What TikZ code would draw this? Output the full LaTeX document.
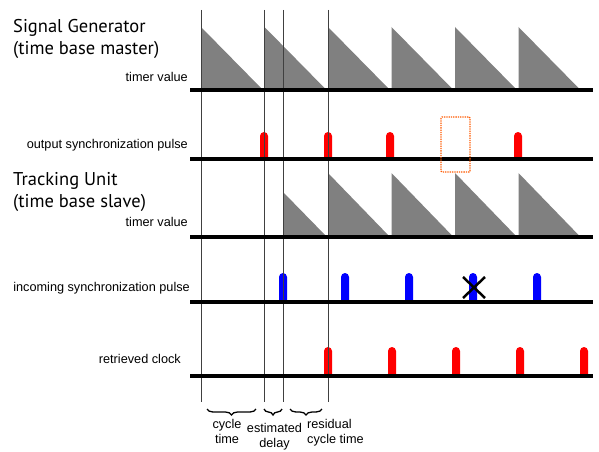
\documentclass[tikz,border=0pt]{standalone}
\usepackage{fontspec}
\setmainfont{Liberation Sans}
\newfontfamily\titlefont{PT Sans}
\usetikzlibrary{decorations.pathreplacing}

\tikzset{
    axis/.style={line width=4.5pt},
    marker/.style={black!75, line width=0.8pt},
    ramp/.style={fill=black!50},
    lbl/.style={font=\fontsize{12.7}{14.5}\selectfont, inner sep=0pt},
    ttl/.style={font=\titlefont\fontsize{18.5}{22}\selectfont, inner sep=0pt, align=left, anchor=base west},
    bracket/.style={decorate, decoration={brace, mirror, amplitude=6pt}, line width=1.3pt}
}

\begin{document}
\begin{tikzpicture}[x=1pt, y=1pt]
        \useasboundingbox (0,0) rectangle (599,451);

        % Titles
        \node[ttl] (master) at (13,396) {Signal Generator\\(time base master)};
        \node[ttl] (slave) at (13,244) {Tracking Unit\\(time base slave)};

        % Row labels
        \node[lbl, anchor=base east] (mtimer) at (188,370) {timer value};
        \node[lbl, anchor=base east] (outpulse) at (188,303) {output synchronization pulse};
        \node[lbl, anchor=base east] (stimer) at (188,225) {timer value};
        \node[lbl, anchor=base east] (inpulse) at (190,160) {incoming synchronization pulse};
        \node[lbl, anchor=base east] (clock) at (181,88) {retrieved clock};

        % Master timer ramps
        \foreach \x in {201,264.5,328,391.5,455,518.5} {
            \fill[ramp] (\x,361) -- (\x,424) -- (\x+62,361) -- cycle;
        }

        % Slave timer ramps (first one cut)
        \fill[ramp] (283,214) -- (283,259) -- (327,214) -- cycle;
        \foreach \x in {328,391.5,455,518.5} {
            \fill[ramp] (\x,214) -- (\x,278) -- (\x+62,214) -- cycle;
        }

        % Pulses
        \foreach \x in {264,328,390,518} {
            \fill[red] (\x-4,292) -- (\x-4,315) arc (180:0:4) -- (\x+4,292) -- cycle;
        }
        \foreach \x in {283,345,409,473,537} {
            \fill[blue] (\x-4,149) -- (\x-4,174) arc (180:0:4) -- (\x+4,149) -- cycle;
        }
        \foreach \x in {328,392,456,520,584} {
            \fill[red] (\x-4,75) -- (\x-4,100) arc (180:0:4) -- (\x+4,75) -- cycle;
        }

        % Time markers
        \foreach \x/\name in {201/ta,264/tb,283/tc,328/td} {
            \draw[marker] (\x,441) coordinate (\name-top) -- (\x,49) coordinate (\name-bot);
        }

        % Axes
        \foreach \y in {361,292,214,149,75} {
            \draw[axis] (190,\y) -- (593,\y);
        }

        % Missing pulse and lost pulse
        \draw[orange!70!red, densely dotted, line width=1.3pt, rounded corners=1pt]
            (441,334) rectangle (470,279);
        \draw[line width=2.5pt] (463,174) -- (485,153) (463,153) -- (485,174);

        % Intervals
        \coordinate (c1) at (207,42);
        \coordinate (c2) at (256,42);
        \coordinate (d1) at (264,42);
        \coordinate (d2) at (282,42);
        \coordinate (r1) at (290,42);
        \coordinate (r2) at (322,42);
        \draw[bracket] (c1) -- (c2);
        \draw[bracket] (d1) -- (d2);
        \draw[bracket] (r1) -- (r2);

        \node[lbl, align=center, anchor=base] (cycle) at (227,8) {cycle\\time};
        \node[lbl, align=center, anchor=base] (delay) at (274.5,4) {estimated\\delay};
        \node[lbl, align=left, anchor=base west] (residual) at (307,8) {residual\\cycle time};
\end{tikzpicture}
\end{document}
